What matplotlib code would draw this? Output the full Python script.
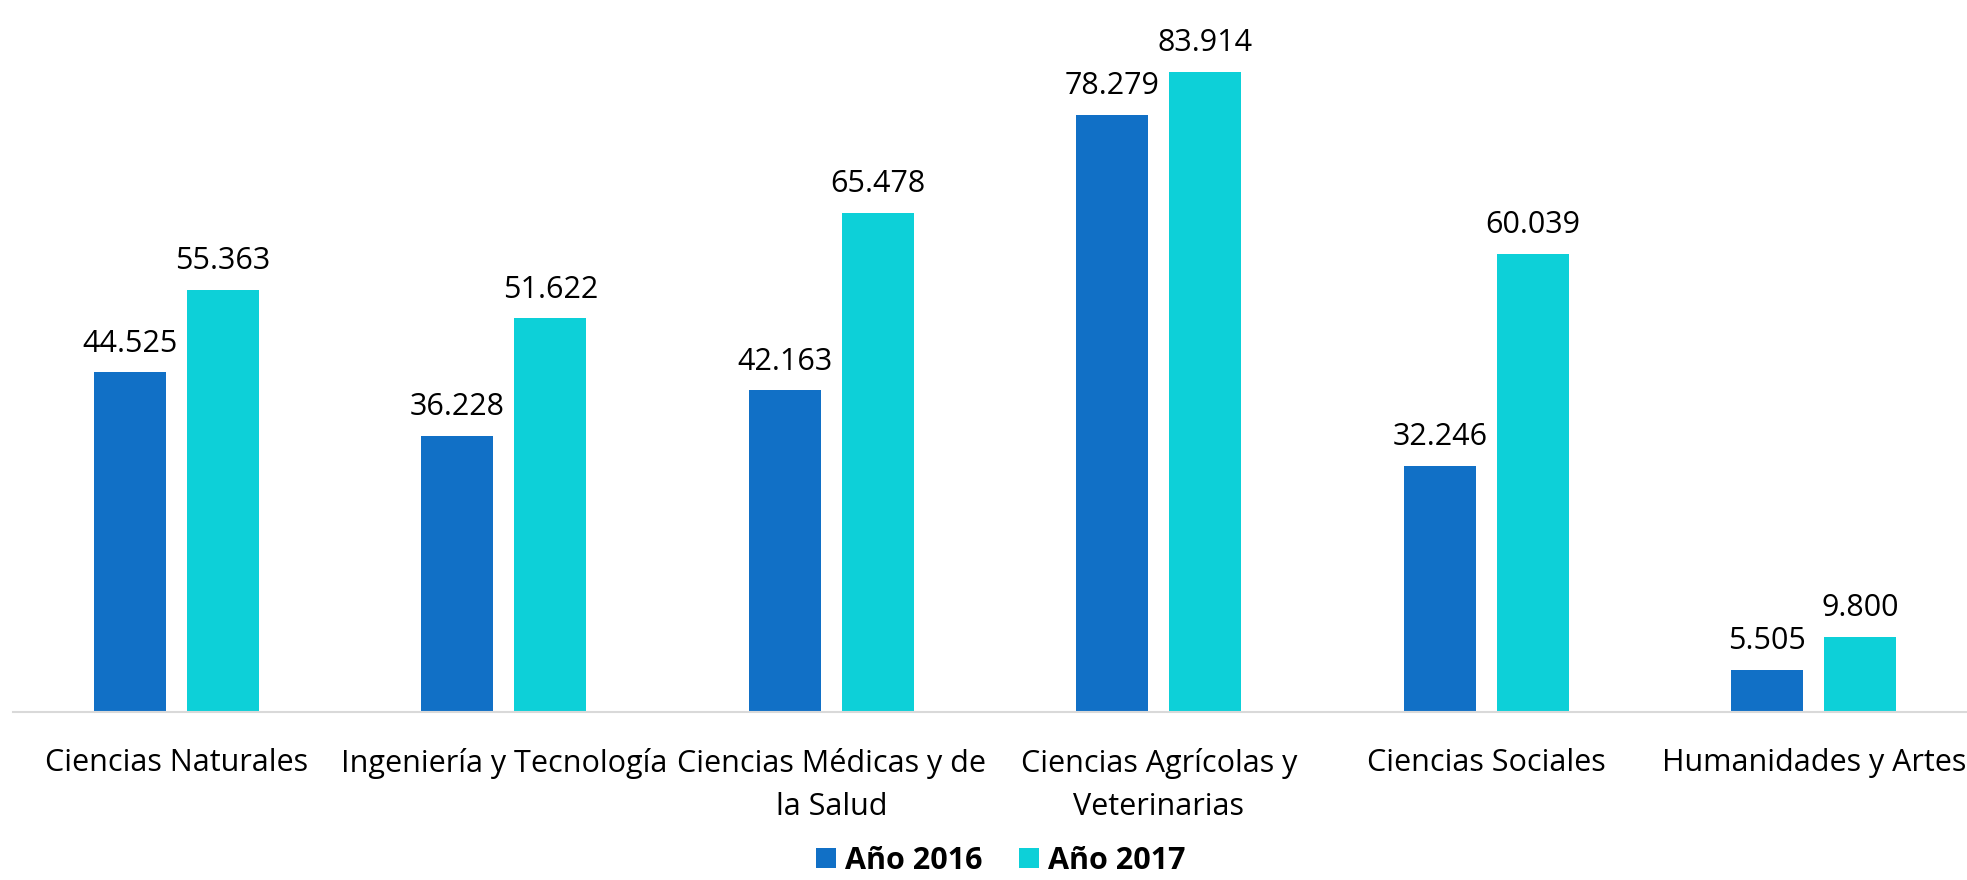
import matplotlib.pyplot as plt
import numpy as np

# datos
categorias = ['Ciencias Naturales', 'Ingeniería y Tecnología', 'Ciencias Médicas y de\nla Salud',
              'Ciencias Agrícolas y\nVeterinarias', 'Ciencias Sociales', 'Humanidades y Artes']
anio_2016 = [44.525, 36.228, 42.163, 78.279, 32.246, 5.505]
anio_2017 = [55.363, 51.622, 65.478, 83.914, 60.039, 9.800]
series = ['Año 2016', 'Año 2017']

plt.rcParams['font.family'] = ['Open Sans', 'DejaVu Sans']

fig = plt.figure(figsize=(19.67, 8.8), dpi=100)
ax = fig.add_axes([0.0064, 0.1912, 0.999, 0.8088])

x = np.arange(len(categorias))
ancho = 0.22
desp = 0.142
b1 = ax.bar(x - desp, anio_2016, ancho, color='#1170C6', label=series[0])
b2 = ax.bar(x + desp, anio_2017, ancho, color='#0DD0D8', label=series[1])

for barras in (b1, b2):
    for b in barras:
        ax.annotate(f'{b.get_height():.3f}', (b.get_x() + b.get_width() / 2, b.get_height()),
                    xytext=(0, 15), textcoords='offset points', ha='center', va='baseline',
                    fontsize=22, color='black')

ax.set_xlim(-0.5, 5.5)
ax.set_ylim(0, 93.4)
ax.set_xticks(x)
ax.set_xticklabels(categorias, fontsize=22, linespacing=1.55)
ax.tick_params(axis='x', length=0, pad=26)
ax.set_yticks([])
for s in ['top', 'right', 'left']:
    ax.spines[s].set_visible(False)
ax.spines['bottom'].set_color('#D9D9D9')
ax.spines['bottom'].set_linewidth(1.5)

fig.legend(loc='center', bbox_to_anchor=(1001 / 1967, 0.022), ncol=2, frameon=False,
           prop={'size': 22, 'weight': 'bold'}, handlelength=0.65, handleheight=0.65,
           handletextpad=0.3, columnspacing=1.2, borderpad=0.1)

fig.savefig('out.png', dpi=100)
